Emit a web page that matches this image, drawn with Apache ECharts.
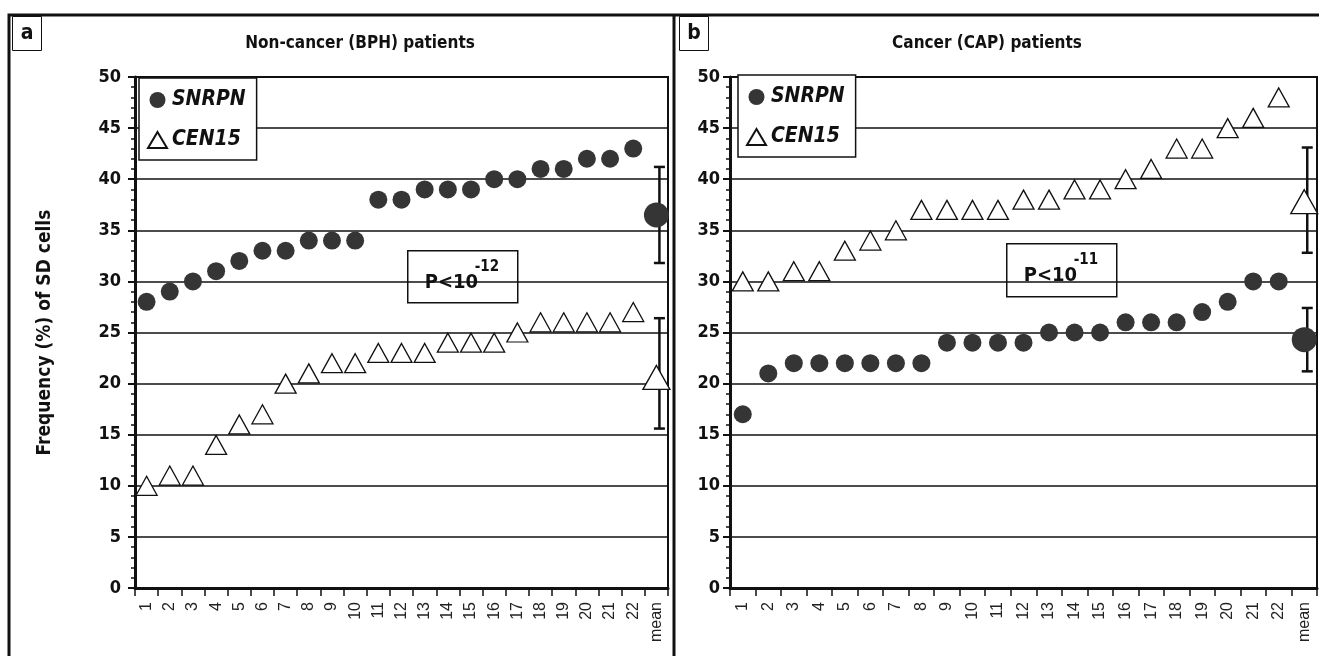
<!DOCTYPE html>
<html>
<head>
<meta charset="utf-8">
<script src="https://cdn.jsdelivr.net/npm/echarts@6/dist/echarts.min.js"></script>
<style>
html,body{margin:0;padding:0;background:#fff;}
#chart{width:1319px;height:656px;}
</style>
</head>
<body>
<div id="chart"></div>
<script>
// ---- data ----
const categories = ['1','2','3','4','5','6','7','8','9','10','11','12','13','14','15','16','17','18','19','20','21','22','mean'];
const yTicks = [0,5,10,15,20,25,30,35,40,45,50];

const bphSNRPN = [28,29,30,31,32,33,33,34,34,34,38,38,39,39,39,40,40,41,41,42,42,43];
const bphCEN15 = [10,11,11,14,16,17,20,21,22,22,23,23,23,24,24,24,25,26,26,26,26,27];
const bphMeanSNRPN = 36.5, bphLowSNRPN = 31.8, bphHighSNRPN = 41.2;
const bphMeanCEN15 = 20.6, bphLowCEN15 = 15.6, bphHighCEN15 = 26.4;

const capSNRPN = [17,21,22,22,22,22,22,22,24,24,24,24,25,25,25,26,26,26,27,28,30,30];
const capCEN15 = [30,30,31,31,33,34,35,37,37,37,37,38,38,39,39,40,41,43,43,45,46,48];
const capMeanSNRPN = 24.3, capLowSNRPN = 21.2, capHighSNRPN = 27.4;
const capMeanCEN15 = 37.8, capLowCEN15 = 32.8, capHighCEN15 = 43.1;

const titles = ['Non-cancer (BPH) patients', 'Cancer (CAP) patients'];
const pTexts = [['P<10', '-12'], ['P<10', '-11']];
const yName = 'Frequency (%) of SD cells';

// ---- styles ----
const FONT = "'Liberation Sans Narrow','DejaVu Sans Condensed','Arial Narrow',Arial,sans-serif";
const INK = '#111';
const DOT = '#353535';
const meanIdx = categories.length - 1;

function xAxis(gi) {
  return {
    type: 'category', gridIndex: gi, data: categories, boundaryGap: true,
    axisLine: {show: true, lineStyle: {color: INK, width: 3}},
    axisTick: {show: true, interval: 0, length: 8, lineStyle: {color: INK, width: 1.5}},
    axisLabel: {interval: 0, rotate: 90, fontSize: 16, color: '#222', margin: 14, fontFamily: 'Liberation Sans, Arial, sans-serif'},
    splitLine: {show: false}
  };
}
function yAxis(gi, withName) {
  const ax = {
    type: 'value', gridIndex: gi, min: 0, max: 50, interval: 5,
    axisLine: {show: true, lineStyle: {color: INK, width: 3}},
    axisTick: {show: true, length: 7, lineStyle: {color: INK, width: 2}},
    minorTick: {show: true, splitNumber: 5, length: 4, lineStyle: {color: INK, width: 1.5}},
    axisLabel: {fontSize: 18, fontWeight: 'bold', color: INK, margin: gi === 0 ? 14 : 10, fontFamily: FONT,
      formatter: v => yTicks.includes(v) ? String(v) : ''},
    splitLine: {show: true, lineStyle: {color: INK, width: 1.5}}
  };
  if (withName) {
    ax.name = yName; ax.nameLocation = 'middle'; ax.nameGap = 80;
    ax.nameTextStyle = {fontSize: 19, fontWeight: 'bold', color: INK, fontFamily: FONT};
  }
  return ax;
}

function errRender(params, api) {
  const x = api.value(0);
  const lo = api.coord([x, api.value(1)]);
  const hi = api.coord([x, api.value(2)]);
  const cx = lo[0] + 3;
  const hw = 5.5;
  const st = {stroke: INK, lineWidth: 2.5};
  return {type: 'group', children: [
    {type: 'line', shape: {x1: cx, y1: lo[1], x2: cx, y2: hi[1]}, style: st},
    {type: 'line', shape: {x1: cx - hw, y1: lo[1], x2: cx + hw, y2: lo[1]}, style: st},
    {type: 'line', shape: {x1: cx - hw, y1: hi[1], x2: cx + hw, y2: hi[1]}, style: st}
  ]};
}

function panelSeries(gi, snrpn, cen, mS, loS, hiS, mC, loC, hiC) {
  return [
    {name: 'SNRPN', type: 'scatter', xAxisIndex: gi, yAxisIndex: gi, z: 4,
      data: snrpn.map((v, i) => [i, v]), symbol: 'circle', symbolSize: 18,
      itemStyle: {color: DOT, opacity: 1}},
    {name: 'CEN15', type: 'scatter', xAxisIndex: gi, yAxisIndex: gi, z: 4,
      data: cen.map((v, i) => [i, v]), symbol: 'triangle', symbolSize: [21, 19],
      itemStyle: {color: '#fff', borderColor: INK, borderWidth: 1.3, opacity: 1}},
    {name: 'err' + gi, type: 'custom', xAxisIndex: gi, yAxisIndex: gi, z: 3,
      renderItem: errRender, data: [[meanIdx, loS, hiS], [meanIdx, loC, hiC]]},
    {name: 'SNRPN mean', type: 'scatter', xAxisIndex: gi, yAxisIndex: gi, z: 5,
      data: [[meanIdx, mS]], symbol: 'circle', symbolSize: 25, itemStyle: {color: DOT, opacity: 1}},
    {name: 'CEN15 mean', type: 'scatter', xAxisIndex: gi, yAxisIndex: gi, z: 5,
      data: [[meanIdx, mC]], symbol: 'triangle', symbolSize: [27, 24],
      itemStyle: {color: '#fff', borderColor: INK, borderWidth: 1.3, opacity: 1}}
  ];
}

function legend(left, top) {
  return {
    data: ['SNRPN', 'CEN15'], orient: 'vertical', left: left, top: top,
    backgroundColor: '#fff', borderColor: INK, borderWidth: 1.5,
    padding: [10, 11, 8, 8], itemGap: 16, itemWidth: 19, itemHeight: 16,
    selectedMode: false,
    textStyle: {fontSize: 21, lineHeight: 24, fontStyle: 'italic', fontWeight: 'bold', color: INK, fontFamily: FONT}
  };
}

function pBox(x, y, w, h, t) {
  return {type: 'group', left: x, top: y, z: 50, children: [
    {type: 'rect', shape: {x: 0, y: 0, width: w, height: h}, style: {fill: '#fff', stroke: INK, lineWidth: 1.5}},
    {type: 'text', x: 17, y: 42, style: {text: t[0], font: 'bold 20px ' + FONT, fill: INK, textVerticalAlign: 'bottom'}},
    {type: 'text', x: 67, y: 24, style: {text: t[1], font: 'bold 15px ' + FONT, fill: INK, textVerticalAlign: 'bottom'}}
  ]};
}

const chart = echarts.init(document.getElementById('chart'), null, {renderer: 'canvas'});
chart.setOption({
  backgroundColor: '#fff',
  animation: false,
  grid: [
    {left: 135, top: 77, width: 533, height: 511, show: true, borderColor: INK, borderWidth: 2, backgroundColor: 'transparent'},
    {left: 730, top: 77, width: 587, height: 511, show: true, borderColor: INK, borderWidth: 2, backgroundColor: 'transparent'}
  ],
  xAxis: [xAxis(0), xAxis(1)],
  yAxis: [yAxis(0, true), yAxis(1, false)],
  legend: [legend(139, 78), legend(738, 75)],
  series: [
    ...panelSeries(0, bphSNRPN, bphCEN15, bphMeanSNRPN, bphLowSNRPN, bphHighSNRPN, bphMeanCEN15, bphLowCEN15, bphHighCEN15),
    ...panelSeries(1, capSNRPN, capCEN15, capMeanSNRPN, capLowSNRPN, capHighSNRPN, capMeanCEN15, capLowCEN15, capHighCEN15)
  ],
  graphic: [
    // outer frame
    {type: 'polyline', z: 60, shape: {points: [[9, 656], [9, 15], [1319, 15]]}, style: {stroke: INK, lineWidth: 3, fill: null}},
    {type: 'line', z: 60, shape: {x1: 674, y1: 15, x2: 674, y2: 656}, style: {stroke: INK, lineWidth: 3}},
    // panel letters
    {type: 'rect', z: 60, shape: {x: 12.5, y: 16.5, width: 29, height: 34}, style: {fill: '#fff', stroke: INK, lineWidth: 1}},
    {type: 'text', z: 61, x: 27, y: 34, style: {text: 'a', font: 'bold 21px ' + FONT, fill: INK, textAlign: 'center', textVerticalAlign: 'middle'}},
    {type: 'rect', z: 60, shape: {x: 679.5, y: 16.5, width: 29, height: 34}, style: {fill: '#fff', stroke: INK, lineWidth: 1}},
    {type: 'text', z: 61, x: 694, y: 34, style: {text: 'b', font: 'bold 21px ' + FONT, fill: INK, textAlign: 'center', textVerticalAlign: 'middle'}},
    // titles
    {type: 'text', z: 61, x: 360, y: 44, style: {text: titles[0], font: 'bold 17px ' + FONT, fill: INK, textAlign: 'center', textVerticalAlign: 'middle'}},
    {type: 'text', z: 61, x: 987, y: 44, style: {text: titles[1], font: 'bold 17px ' + FONT, fill: INK, textAlign: 'center', textVerticalAlign: 'middle'}},
    // P boxes
    pBox(407, 250, 110, 52, pTexts[0]),
    pBox(1006, 243, 110, 53, pTexts[1])
  ]
});
</script>
</body>
</html>
